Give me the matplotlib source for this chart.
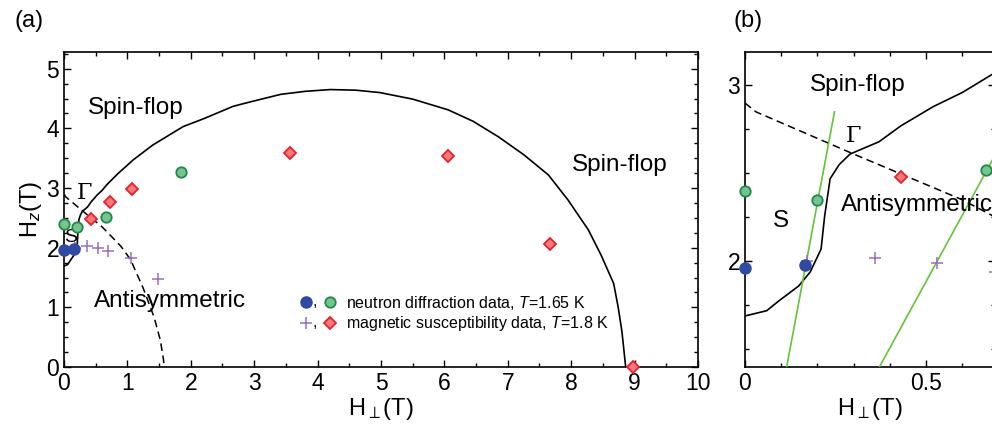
import numpy as np
import matplotlib.pyplot as plt
from matplotlib.lines import Line2D
from matplotlib.text import Text
from matplotlib.legend_handler import HandlerBase
from matplotlib.ticker import MultipleLocator

plt.rcParams['font.family'] = ['Liberation Sans', 'DejaVu Sans']
plt.rcParams['mathtext.fontset'] = 'custom'
plt.rcParams['mathtext.rm'] = 'Liberation Sans'
plt.rcParams['mathtext.it'] = 'Liberation Sans:italic'

# neutron diffraction, T=1.65 K
blue_x = [0.0, 0.165]
blue_y = [1.96, 1.98]
green_x = [0.0, 0.20, 0.665, 1.85]
green_y = [2.40, 2.35, 2.52, 3.27]
# magnetic susceptibility, T=1.8 K
plus_x = [0.17, 0.36, 0.53, 0.69, 1.05, 1.49]
plus_y = [2.00, 2.02, 1.99, 1.94, 1.83, 1.48]
red_x = [0.43, 0.72, 1.08, 3.56, 6.05, 7.66, 8.97]
red_y = [2.48, 2.77, 2.98, 3.59, 3.53, 2.07, 0.0]

# phase boundaries
solid_x = [0.0, 0.06, 0.093, 0.148, 0.18, 0.21, 0.22, 0.235, 0.26, 0.29, 0.37, 0.43,
           0.52, 0.60, 0.68, 0.85, 1.09, 1.40, 1.88, 2.20, 2.67, 3.00, 3.42, 3.80,
           4.20, 4.60, 4.98, 5.50, 6.06, 6.45, 6.85, 7.25, 7.64, 7.95, 8.27, 8.47,
           8.67, 8.74, 8.80, 8.86]
solid_y = [1.69, 1.72, 1.775, 1.86, 1.94, 2.07, 2.26, 2.47, 2.55, 2.61, 2.68, 2.77,
           2.88, 2.96, 3.06, 3.24, 3.47, 3.72, 4.03, 4.16, 4.37, 4.46, 4.57, 4.62,
           4.65, 4.64, 4.60, 4.49, 4.31, 4.12, 3.86, 3.56, 3.22, 2.80, 2.30, 1.88,
           1.40, 1.01, 0.60, 0.0]
dash_x = [0.0, 0.03, 0.30, 0.60, 0.72, 0.90, 1.05, 1.25, 1.42, 1.52, 1.57, 1.58]
dash_y = [2.90, 2.85, 2.61, 2.35, 2.22, 2.02, 1.80, 1.32, 0.84, 0.45, 0.12, 0.0]
fit1_x = [0.115, 0.247]
fit1_y = [1.40, 2.85]
fit2_x = [0.371, 0.70]
fit2_y = [1.40, 2.64]

BLUE = '#2f4aa0'
GREEN_E, GREEN_F = '#1e8a48', '#78c490'
RED_E, RED_F = '#e8202a', '#f47a7a'
PURPLE = '#9a6cc0'
LGREEN = '#66c23a'

fig = plt.figure(figsize=(9.92, 4.24), dpi=100)
axa = fig.add_axes([0.0645, 0.1344, 0.6391, 0.743])
axb = fig.add_axes([0.751, 0.1344, 0.252, 0.743])


def draw_data(ax, xmax):
    def sel(xs, ys):
        xs, ys = np.array(xs), np.array(ys)
        m = xs <= xmax
        return xs[m], ys[m]
    ax.plot(solid_x, solid_y, color='black', lw=1.2, zorder=2)
    ax.plot(dash_x, dash_y, color='black', lw=1.1, ls=(0, (5, 3)), zorder=2)
    x, y = sel(plus_x, plus_y)
    ax.plot(x, y, ls='none', marker='+', ms=9, mew=1.1, color=PURPLE,
            zorder=4, clip_on=False)
    x, y = sel(blue_x, blue_y)
    ax.plot(x, y, ls='none', marker='o', ms=8, color=BLUE, mec=BLUE,
            zorder=5, clip_on=False)
    x, y = sel(green_x, green_y)
    ax.plot(x, y, ls='none', marker='o', ms=7.5, mfc=GREEN_F, mec=GREEN_E,
            mew=1.3, zorder=5, clip_on=False)
    x, y = sel(red_x, red_y)
    ax.plot(x, y, ls='none', marker='D', ms=6.5, mfc=RED_F, mec=RED_E,
            mew=1.3, zorder=5, clip_on=False)


def style(ax):
    ax.tick_params(which='both', direction='in', top=True, right=True,
                   labelsize=16.5, width=1.0)
    ax.tick_params(which='major', length=5)
    ax.tick_params(which='minor', length=3)
    for s in ax.spines.values():
        s.set_linewidth(1.2)


# ---- panel (a)
draw_data(axa, 10)
axa.set_xlim(0, 10)
axa.set_ylim(0, 5.28)
axa.xaxis.set_major_locator(MultipleLocator(1))
axa.xaxis.set_minor_locator(MultipleLocator(0.5))
axa.yaxis.set_major_locator(MultipleLocator(1))
axa.yaxis.set_minor_locator(MultipleLocator(0.25))
style(axa)
axa.set_xlabel(r'H$_\perp$(T)', fontsize=17, labelpad=1)
axa.set_ylabel(r'H$_z$(T)', fontsize=17, labelpad=2)

axa.text(1.14, 4.34, 'Spin-flop', fontsize=17.5, ha='center', va='center')
axa.text(8.76, 3.39, 'Spin-flop', fontsize=17.5, ha='center', va='center')
axa.text(1.67, 1.10, 'Antisymmetric', fontsize=17.5, ha='center', va='center')
axa.text(0.33, 2.92, 'Γ', fontsize=16, ha='center', va='center',
         family='DejaVu Serif')
axa.text(0.10, 2.17, 'S', fontsize=14, ha='center', va='center')


class PairHandler(HandlerBase):
    def create_artists(self, legend, orig_handle, xdescent, ydescent,
                       width, height, fontsize, trans):
        h1, h2 = orig_handle
        y = height / 2 - ydescent
        a1 = Line2D([width * 0.12 - xdescent], [y])
        a1.update_from(h1)
        a2 = Line2D([width * 0.88 - xdescent], [y])
        a2.update_from(h2)
        c = Text(width * 0.42 - xdescent, y - height * 0.35, ',',
                 fontsize=fontsize, ha='center', va='baseline')
        for a in (a1, a2, c):
            a.set_transform(trans)
        return [a1, c, a2]


hb = Line2D([], [], ls='none', marker='o', ms=8, color=BLUE)
hg = Line2D([], [], ls='none', marker='o', ms=7.5, mfc=GREEN_F, mec=GREEN_E, mew=1.3)
hp = Line2D([], [], ls='none', marker='+', ms=9, mew=1.1, color=PURPLE)
hr = Line2D([], [], ls='none', marker='D', ms=6.5, mfc=RED_F, mec=RED_E, mew=1.3)
axa.legend([(hb, hg), (hp, hr)],
           ['neutron diffraction data, $T$=1.65 K',
            'magnetic susceptibility data, $T$=1.8 K'],
           handler_map={tuple: PairHandler()},
           loc='upper left', bbox_to_anchor=(0.375, 0.232), frameon=False,
           borderpad=0, borderaxespad=0, handlelength=2.0, handletextpad=0.8,
           labelspacing=0.15, fontsize=11.5)

# ---- panel (b)
draw_data(axb, 0.72)
axb.plot(fit1_x, fit1_y, color=LGREEN, lw=1.2, zorder=3)
axb.plot(fit2_x, fit2_y, color=LGREEN, lw=1.2, zorder=3)
axb.set_xlim(0, 0.69)
axb.set_ylim(1.40, 3.19)
axb.xaxis.set_major_locator(MultipleLocator(0.5))
axb.xaxis.set_minor_locator(MultipleLocator(0.1))
axb.yaxis.set_major_locator(MultipleLocator(1))
axb.yaxis.set_minor_locator(MultipleLocator(0.25))
axb.set_xticks([0, 0.5], ['0', '0.5'])
style(axb)
axb.set_xlabel(r'H$_\perp$(T)', fontsize=17, labelpad=1)
axb.text(0.31, 3.0, 'Spin-flop', fontsize=17.5, ha='center', va='center')
axb.text(0.30, 2.71, 'Γ', fontsize=16, ha='center', va='center',
         family='DejaVu Serif')
axb.text(0.10, 2.23, 'S', fontsize=17.5, ha='center', va='center')
axb.text(0.265, 2.32, 'Antisymmetric', fontsize=17.5, ha='left', va='center')

fig.text(0.015, 0.95, '(a)', fontsize=17, va='center')
fig.text(0.739, 0.95, '(b)', fontsize=17, va='center')

fig.savefig('out.png', dpi=100)
